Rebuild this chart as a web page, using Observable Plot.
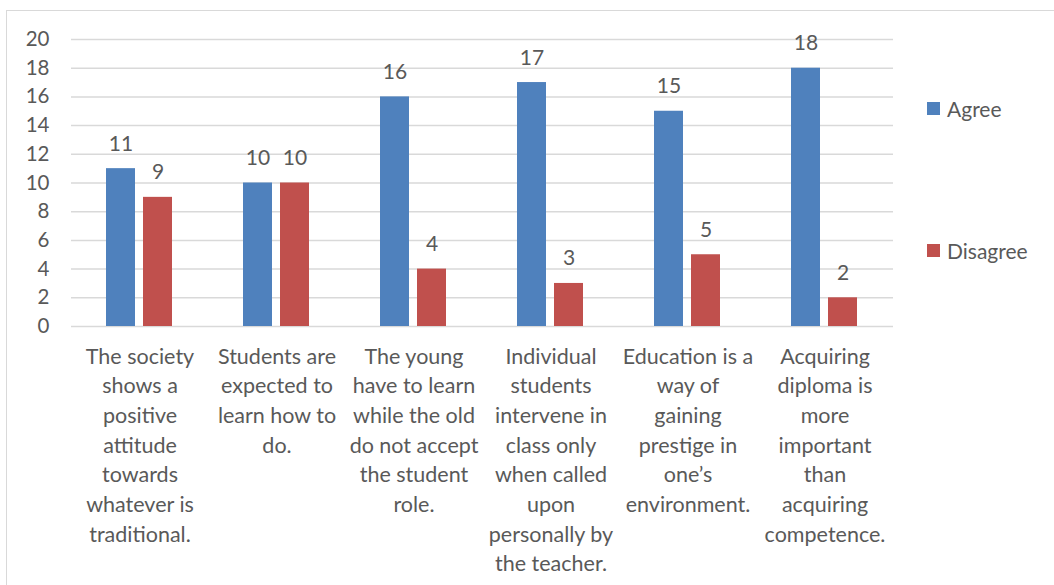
<!DOCTYPE html>
<html>
<head>
<meta charset="utf-8">
<script src="https://cdn.jsdelivr.net/npm/d3@7"></script>
<script src="https://cdn.jsdelivr.net/npm/@observablehq/plot@0.6"></script>
<style>
  html, body { margin: 0; padding: 0; background: #fff; overflow: hidden; }
  #wrap { position: relative; width: 1054px; height: 585px; font-family: Lato, "Open Sans", sans-serif; }
  #frame { position: absolute; left: 6px; top: 10px; width: 1100px; height: 620px; border: 1.5px solid #d9d9d9; box-sizing: border-box; }
  #chart { position: absolute; left: 0; top: 0; }
  .leg { position: absolute; left: 927px; font-size: 21px; color: #595959; display: flex; align-items: center; }
  .sw { width: 13px; height: 13px; margin-right: 7px; }
</style>
</head>
<body>
<div id="wrap">
  <div id="frame"></div>
  <div id="chart"></div>
  <div id="legend"></div>
</div>
<script>
const categories = [
  "The society\nshows a\npositive\nattitude\ntowards\nwhatever is\ntraditional.",
  "Students are\nexpected to\nlearn how to\ndo.",
  "The young\nhave to learn\nwhile the old\ndo not accept\nthe student\nrole.",
  "Individual\nstudents\nintervene in\nclass only\nwhen called\nupon\npersonally by\nthe teacher.",
  "Education is a\nway of\ngaining\nprestige in\none’s\nenvironment.",
  "Acquiring\ndiploma is\nmore\nimportant\nthan\nacquiring\ncompetence."
];
const series = ["Agree", "Disagree"];
const agree = [11, 10, 16, 17, 15, 18];
const disagree = [9, 10, 4, 3, 5, 2];
const colors = ["#4F81BD", "#C0504D"];
const yTicks = [0, 2, 4, 6, 8, 10, 12, 14, 16, 18, 20];

const data = [];
categories.forEach((c, i) => {
  data.push({category: c, series: "Agree", value: agree[i]});
  data.push({category: c, series: "Disagree", value: disagree[i]});
});

const chart = Plot.plot({
  width: 900,
  height: 585,
  marginLeft: 70,
  marginRight: 7,
  marginTop: 39,
  marginBottom: 259,
  style: {fontFamily: "Lato, 'Open Sans', sans-serif", fontSize: "20px", color: "#595959", background: "transparent", overflow: "visible"},
  fx: {domain: categories, padding: 0, label: null},
  x: {domain: series, paddingInner: 0.21, paddingOuter: 0.908, axis: null},
  y: {domain: [0, 20], label: null},
  color: {domain: series, range: colors},
  marks: [
    Plot.ruleY(yTicks, {stroke: "#d9d9d9", strokeWidth: 1.5}),
    Plot.axisY({ticks: yTicks, tickSize: 0, tickPadding: 22, label: null, fill: "#595959", fontSize: 20.5}),
    Plot.axisFx({anchor: "bottom", tickSize: 0, tickPadding: 16, label: null, lineHeight: 1.38, lineAnchor: "top", fill: "#595959", fontSize: 21.5, textOverflow: null}),
    Plot.barY(data, {fx: "category", x: "series", y: "value", fill: "series"}),
    Plot.text(data, {fx: "category", x: "series", y: "value", text: d => String(d.value), lineAnchor: "bottom", dy: -18, fill: "#595959", fontSize: 21})
  ]
});
document.getElementById("chart").appendChild(chart);

const legend = document.getElementById("legend");
const legendY = [110, 252];
series.forEach((s, i) => {
  const el = document.createElement("div");
  el.className = "leg";
  el.style.top = (legendY[i] - 14) + "px";
  el.innerHTML = `<span class="sw" style="background:${colors[i]}"></span><span>${s}</span>`;
  legend.appendChild(el);
});
</script>
</body>
</html>
